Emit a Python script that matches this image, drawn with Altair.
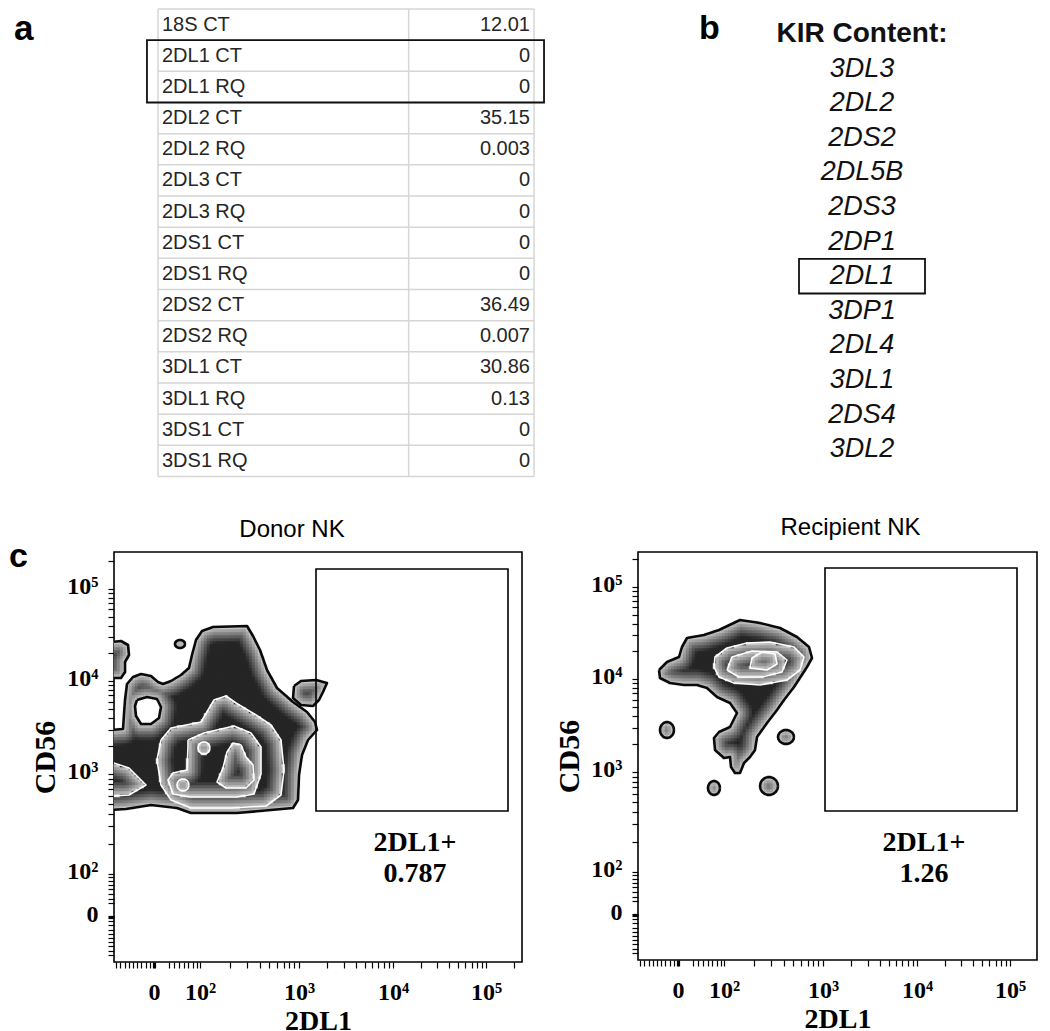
import altair as alt
import numpy as np
import pandas as pd

# ---------------- panel a : qPCR table ----------------
table_labels = ["18S CT", "2DL1 CT", "2DL1 RQ", "2DL2 CT", "2DL2 RQ", "2DL3 CT", "2DL3 RQ",
                "2DS1 CT", "2DS1 RQ", "2DS2 CT", "2DS2 RQ", "3DL1 CT", "3DL1 RQ", "3DS1 CT", "3DS1 RQ"]
table_values = ["12.01", "0", "0", "35.15", "0.003", "0", "0", "0", "0", "36.49", "0.007",
                "30.86", "0.13", "0", "0"]
table_box_rows = [1, 2]

# ---------------- panel b : KIR content ----------------
kir_title = "KIR Content:"
kir_genes = ["3DL3", "2DL2", "2DS2", "2DL5B", "2DS3", "2DP1", "2DL1", "3DP1", "2DL4", "3DL1", "2DS4", "3DL2"]
kir_box_gene = "2DL1"

panel_labels = ["a", "b", "c"]
plot_titles = ["Donor NK", "Recipient NK"]
gate_name = "2DL1+"
gate_pcts = ["0.787", "1.26"]

# ---------------- panel c : flow plots (display units = px from frame left / bottom) ----------------
axis_labels = ["0", "10²", "10³", "10⁴", "10⁵"]
x_major = [40, 86, 185, 279, 372]
y_major = [45, 88, 188, 281, 373]

donor_gate = [202, 394, 151, 393]
recip_gate = [187, 379, 149, 392]

donor_l1_main = [(-3, 232), (9, 233), (11, 262), (13, 278), (19, 285), (27, 288), (37, 286), (44, 280),
                 (49, 278), (57, 281), (67, 287), (75, 294), (78, 307), (82, 322), (88, 331), (99, 335),
                 (133, 336), (139, 326), (146, 312), (153, 292), (163, 274), (179, 260), (193, 250),
                 (201, 240), (203, 232), (194, 222), (188, 207), (185, 187), (184, 162), (179, 154),
                 (157, 152), (123, 149), (77, 149), (63, 154), (37, 157), (12, 153), (-3, 152)]
donor_l1_hole = [(23, 262), (33, 265), (43, 263), (47, 255), (45, 244), (37, 238), (27, 238), (22, 246), (21, 256)]
donor_l1_topleft = [(-3, 320), (7, 321), (14, 317), (15, 307), (11, 300), (11, 290), (7, 284), (-3, 284)]
donor_l1_right = [(180, 276), (187, 281), (202, 282), (213, 279), (209, 270), (205, 262), (199, 256),
                  (187, 257), (179, 264)]
donor_l2_main = [(47, 222), (57, 234), (87, 240), (100, 262), (112, 266), (122, 259), (142, 247), (157, 237),
                 (167, 222), (170, 192), (167, 167), (152, 156), (117, 154), (77, 154), (57, 162), (47, 177),
                 (43, 202)]
donor_l2_left = [(-3, 200), (15, 194), (32, 177), (15, 167), (-3, 166)]
donor_l3 = [(74, 222), (90, 229), (120, 236), (137, 229), (147, 215), (147, 188), (140, 168), (123, 165),
            (76, 165), (59, 168), (54, 182), (59, 189), (73, 192), (74, 215)]
donor_l4 = [(109, 194), (113, 210), (119, 219), (127, 217), (132, 205), (139, 197), (140, 182), (132, 174),
            (112, 174), (103, 180)]
donor_islands = [(1, 66, 318, 5, 4), (4, 90, 214, 6, 6), (4, 69, 177, 6, 6)]

recip_l1 = [(21, 290), (29, 298), (41, 303), (44, 313), (49, 322), (66, 325), (81, 330), (102, 340),
            (122, 337), (142, 332), (159, 323), (171, 313), (174, 302), (169, 293), (156, 273), (146, 260),
            (139, 250), (129, 237), (119, 223), (117, 210), (112, 203), (106, 197), (102, 187), (97, 187),
            (93, 193), (92, 203), (86, 202), (77, 210), (76, 222), (81, 228), (92, 233), (99, 247), (92, 257),
            (79, 263), (69, 272), (59, 275), (46, 275), (32, 277), (22, 282)]
recip_l2 = [(76, 293), (77, 303), (89, 312), (109, 317), (132, 318), (156, 313), (166, 303), (162, 290),
            (149, 280), (122, 275), (96, 277), (81, 283)]
recip_l3 = [(89, 290), (94, 303), (114, 309), (139, 308), (149, 300), (144, 288), (124, 283), (101, 283)]
recip_l4 = [(112, 292), (114, 302), (124, 308), (137, 306), (139, 296), (129, 290)]
recip_islands = [(1, 29, 230, 7, 8), (1, 76, 172, 6, 7), (1, 131, 174, 9, 9), (1, 148, 223, 8, 7)]

FONT = "Liberation Sans"
SERIF = "Liberation Serif"


# ---------------- helpers ----------------
def ellipse(cx, cy, rx, ry, n=18):
    a = np.linspace(0, 2 * np.pi, n, endpoint=False)
    return [(float(cx + rx * np.cos(t)), float(cy + ry * np.sin(t))) for t in a]


def collect(levels_polys, islands):
    polys = list(levels_polys)
    for lv, cx, cy, rx, ry in islands:
        polys.append((lv, ellipse(cx, cy, rx, ry)))
    return polys


def pip(X, Y, poly):
    x = poly[:, 0]; y = poly[:, 1]
    x2 = np.roll(x, -1); y2 = np.roll(y, -1)
    res = np.zeros(X.shape, bool)
    for xi, yi, xj, yj in zip(x, y, x2, y2):
        if yi == yj:
            continue
        c = ((yi > Y) != (yj > Y)) & (X < (xj - xi) * (Y - yi) / (yj - yi) + xi)
        res ^= c
    return res


def segdist(X, Y, poly):
    x = poly[:, 0]; y = poly[:, 1]
    x2 = np.roll(x, -1); y2 = np.roll(y, -1)
    d = np.full(X.shape, np.inf)
    for xi, yi, xj, yj in zip(x, y, x2, y2):
        if xi < 0.5 and xj < 0.5:
            continue
        vx, vy = xj - xi, yj - yi
        L = vx * vx + vy * vy
        t = np.clip(((X - xi) * vx + (Y - yi) * vy) / (L if L > 0 else 1), 0, 1)
        d = np.minimum(d, np.hypot(X - (xi + t * vx), Y - (yi + t * vy)))
    return d


def rasterize(polys, xmax, ymax, cell=3.0):
    xs = np.arange(cell / 2, xmax, cell)
    ys = np.arange(cell / 2, ymax, cell)
    X, Y = np.meshgrid(xs, ys)
    X = X.ravel(); Y = Y.ravel()
    levels = sorted(set(p[0] for p in polys))
    band = np.zeros(X.shape, int)
    for lv in levels:
        m = np.zeros(X.shape, bool)
        for l, pts in polys:
            if l == lv:
                m ^= pip(X, Y, np.array(pts, float))
        band[m] = np.maximum(band[m], lv)
    dist = np.zeros(X.shape)
    for lv in levels:
        sel = band == lv
        if not sel.any():
            continue
        d = np.full(int(sel.sum()), np.inf)
        for l, pts in polys:
            if l == lv:
                d = np.minimum(d, segdist(X[sel], Y[sel], np.array(pts, float)))
        dist[sel] = d
    keep = band > 0
    t = np.clip(dist[keep] / 16.0, 0, 1)
    return pd.DataFrame({"x0": X[keep] - cell / 2, "x1": X[keep] + cell / 2,
                         "y0": Y[keep] - cell / 2, "y1": Y[keep] + cell / 2, "t": np.round(t, 3)})


def contour_lines(polys):
    rows = []
    for i, (lv, pts) in enumerate(polys):
        for j, (x, y) in enumerate(list(pts) + [pts[0]]):
            rows.append({"pid": i, "ord": j, "x": x, "y": y, "kind": "outer" if lv == 1 else "inner"})
    return pd.DataFrame(rows)


def minor_ticks(major, top):
    mins = []
    for i in range(1, 10):
        mins.append(major[0] - 4.2 * i)
    mins += [major[0] - 1.3, major[0] + 1.3]
    for f in [0.32, 0.43, 0.54, 0.65, 0.74, 0.84, 0.93]:
        mins.append(major[0] + f * (major[1] - major[0]))
    for a, b in zip(major[1:-1], major[2:]):
        for k in range(2, 10):
            mins.append(a + np.log10(k) * (b - a))
    span = major[-1] - major[-2]
    for k in range(2, 10):
        mins.append(major[-1] + np.log10(k) * span)
    return [round(float(m), 2) for m in mins if 0 < m < top - 2]


def flow_axis(major, top, label_pad, title_pad, title_size, label_off=0):
    expr = "".join(f"datum.value == {m} ? '{l}' : " for m, l in zip(major, axis_labels)) + "''"
    return alt.Axis(values=[float(v) for v in major] + minor_ticks(major, top), labelExpr=expr,
                    grid=False, domain=False, ticks=True, tickColor="black", tickWidth=1.2, tickSize=6,
                    labelFont=SERIF, labelFontWeight="bold", labelFontSize=24, labelColor="black",
                    labelOverlap=False, labelFlush=False, labelPadding=label_pad, labelOffset=label_off,
                    titleFont=SERIF, titleFontWeight="bold", titleFontSize=title_size, titleColor="black",
                    titlePadding=title_pad)


def flow_chart(polys, gate, pct, title, tdx, toff, width, height, panel=None):
    xsc = alt.Scale(domain=[0, width], nice=False, zero=False)
    ysc = alt.Scale(domain=[0, height], nice=False, zero=False)
    xax = flow_axis(x_major, width, 12, 3, 28)
    yax = flow_axis(y_major, height, 10, 6, 30, -3)

    def X(f):
        return alt.X(f, scale=xsc, axis=xax, title="2DL1")

    def Y(f):
        return alt.Y(f, scale=ysc, axis=yax, title="CD56")

    shade = alt.Scale(domain=[0, 1], range=["#cfcfcf", "#262626"])
    cells = alt.Chart(rasterize(polys, width, height)).mark_rect(strokeWidth=0.5).encode(
        x=X("x0:Q"), x2="x1:Q", y=Y("y0:Q"), y2="y1:Q",
        color=alt.Color("t:Q", scale=shade, legend=None),
        stroke=alt.Stroke("t:Q", scale=shade, legend=None),
    )
    ldf = contour_lines(polys)
    outer = alt.Chart(ldf).transform_filter("datum.kind == 'outer'").mark_line(
        clip=True, color="#0a0a0a", strokeWidth=2.6, strokeJoin="round").encode(
        x=X("x:Q"), y=Y("y:Q"), detail="pid:N", order="ord:Q")
    inner = alt.Chart(ldf).transform_filter("datum.kind == 'inner'").mark_line(
        clip=True, color="#ffffff", strokeWidth=1.6, strokeJoin="round").encode(
        x=X("x:Q"), y=Y("y:Q"), detail="pid:N", order="ord:Q")
    gdf = pd.DataFrame({"x0": [gate[0]], "x1": [gate[1]], "y0": [gate[2]], "y1": [gate[3]]})
    gate_rect = alt.Chart(gdf).mark_rect(fillOpacity=0, stroke="black", strokeWidth=1.6).encode(
        x=X("x0:Q"), x2="x1:Q", y=Y("y0:Q"), y2="y1:Q")
    cx = (gate[0] + gate[1]) / 2 + 3
    tdf = pd.DataFrame({"text": [gate_name, pct], "x": [cx, cx], "y": [gate[2] - 32, gate[2] - 63]})
    gate_text = alt.Chart(tdf).mark_text(font=SERIF, fontWeight="bold", fontSize=28, color="black",
                                         baseline="middle").encode(x=X("x:Q"), y=Y("y:Q"), text="text:N")
    layers = [cells, outer, inner, gate_rect, gate_text]
    if panel is not None:
        pdf = pd.DataFrame({"t": [panel], "x": [-105.0], "y": [height - 5.0]})
        layers.append(alt.Chart(pdf).mark_text(
            font=FONT, fontWeight="bold", fontSize=34, align="left", baseline="middle", color="black").encode(
            x=X("x:Q"), y=Y("y:Q"), text="t:N"))
    return alt.layer(*layers).properties(
        width=width, height=height,
        title=alt.TitleParams(title, font=FONT, fontSize=24, fontWeight="normal", color="black",
                              dx=tdx, offset=toff),
        view=alt.ViewBackground(stroke="black", strokeWidth=1.6, strokeOpacity=1))


# ---------------- panel a chart ----------------
# the table view starts 44 px left of the table so that it lines up with the flow plot below
TU = 376 / 3.0                      # px per table column unit
T0 = -44 / TU
RP = 467.5 / 15                     # px per table row
n = len(table_labels)
tdf = pd.DataFrame({"label": table_labels, "value": table_values, "row": np.arange(n) + 0.5})
tx = alt.Scale(domain=[T0, 3], nice=False, zero=False)
ty = alt.Scale(domain=[0, n], reverse=True, nice=False, zero=False)
grid_color = "#d6d6d6"
hrules = alt.Chart(pd.DataFrame({"b": np.arange(n + 1)})).mark_rule(color=grid_color, strokeWidth=1.5).encode(
    y=alt.Y("b:Q", scale=ty, axis=None), x=alt.XDatum(0, scale=tx, axis=None), x2=alt.X2Datum(3))
vrules = alt.Chart(pd.DataFrame({"c": [0, 2, 3]})).mark_rule(color=grid_color, strokeWidth=1.5).encode(
    x=alt.X("c:Q", scale=tx, axis=None), y=alt.YDatum(0, scale=ty, axis=None), y2=alt.Y2Datum(n))
lab_text = alt.Chart(tdf).mark_text(font=FONT, fontSize=20, align="left", dx=4, color="#262626",
                                    baseline="middle").encode(
    x=alt.XDatum(0, scale=tx, axis=None), y=alt.Y("row:Q", scale=ty, axis=None), text="label:N")
val_text = alt.Chart(tdf).mark_text(font=FONT, fontSize=20, align="right", dx=-4, color="#262626",
                                    baseline="middle").encode(
    x=alt.XDatum(3, scale=tx, axis=None), y=alt.Y("row:Q", scale=ty, axis=None), text="value:N")
box_df = pd.DataFrame({"r0": [min(table_box_rows)], "r1": [max(table_box_rows) + 1]})
tbox = alt.Chart(box_df).mark_rect(fillOpacity=0, stroke="#111111", strokeWidth=1.8).encode(
    x=alt.XDatum(-0.088, scale=tx, axis=None), x2=alt.X2Datum(3.08),
    y=alt.Y("r0:Q", scale=ty, axis=None), y2="r1:Q")
a_lab = alt.Chart(pd.DataFrame({"t": [panel_labels[0]]})).mark_text(
    font=FONT, fontWeight="bold", fontSize=35, align="left", baseline="top", color="black").encode(
    x=alt.XDatum(T0 - 100 / TU, scale=tx, axis=None), y=alt.YDatum(3 / RP, scale=ty, axis=None), text="t:N")
table_chart = alt.layer(hrules, vrules, lab_text, val_text, tbox, a_lab).properties(
    width=376 + 44, height=467.5, view=alt.ViewBackground(strokeOpacity=0))

# ---------------- panel b chart ----------------
KP = 34.6
K0 = -25 / KP + 0.5
kdf = pd.DataFrame({"gene": kir_genes, "row": np.arange(1, len(kir_genes) + 1) + 0.5})
kx = alt.Scale(domain=[0, 1], nice=False, zero=False)
ky = alt.Scale(domain=[K0, K0 + 467.5 / KP], reverse=True, nice=False, zero=False)
genes_text = alt.Chart(kdf).mark_text(font=FONT, fontStyle="italic", fontSize=27, color="#111111",
                                      baseline="middle").encode(
    x=alt.XDatum(0.5, scale=kx, axis=None), y=alt.Y("row:Q", scale=ky, axis=None), text="gene:N")
ktitle = alt.Chart(pd.DataFrame({"t": [kir_title]})).mark_text(
    font=FONT, fontWeight="bold", fontSize=28, color="#111111", baseline="middle").encode(
    x=alt.XDatum(0.5, scale=kx, axis=None), y=alt.YDatum(0.5, scale=ky, axis=None), text="t:N")
kb = kir_genes.index(kir_box_gene) + 1
kbox = alt.Chart(pd.DataFrame({"r0": [kb], "r1": [kb + 1]})).mark_rect(
    fillOpacity=0, stroke="#111111", strokeWidth=1.8).encode(
    x=alt.XDatum(0, scale=kx, axis=None), x2=alt.X2Datum(1),
    y=alt.Y("r0:Q", scale=ky, axis=None), y2="r1:Q")
b_lab = alt.Chart(pd.DataFrame({"t": [panel_labels[1]]})).mark_text(
    font=FONT, fontWeight="bold", fontSize=34, align="left", baseline="top", color="black").encode(
    x=alt.XDatum(-0.794, scale=kx, axis=None), y=alt.YDatum(K0 + 3 / KP, scale=ky, axis=None), text="t:N")
kir_chart = alt.layer(genes_text, ktitle, kbox, b_lab).properties(
    width=126, height=467.5, view=alt.ViewBackground(strokeOpacity=0))

# ---------------- panel c charts ----------------
donor_polys = collect([(1, donor_l1_main), (1, donor_l1_hole), (1, donor_l1_topleft), (1, donor_l1_right),
                       (2, donor_l2_main), (2, donor_l2_left), (3, donor_l3), (4, donor_l4)], donor_islands)
recip_polys = collect([(1, recip_l1), (2, recip_l2), (3, recip_l3), (4, recip_l4)], recip_islands)

donor_chart = flow_chart(donor_polys, donor_gate, gate_pcts[0], plot_titles[0], -26, -2, 408, 410, panel_labels[2])
recip_chart = flow_chart(recip_polys, recip_gate, gate_pcts[1], plot_titles[1], 13, 4, 399, 408)

top = alt.hconcat(table_chart, kir_chart, spacing=153)
bottom = alt.hconcat(donor_chart, recip_chart, spacing=31)
chart = alt.vconcat(top, bottom, spacing=37).properties(padding=0).configure_view(strokeOpacity=0)

chart.save("out.html", embed_options={"renderer": "svg", "actions": False})
